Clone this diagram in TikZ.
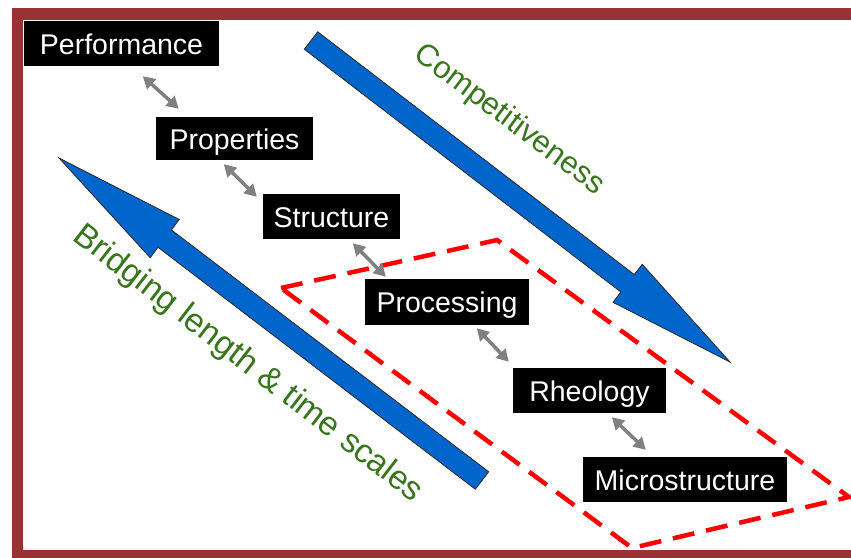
\documentclass[tikz,border=0pt]{standalone}
\usepackage{fontspec}
\setmainfont{Liberation Sans}
\usetikzlibrary{arrows.meta}
\definecolor{framecol}{RGB}{153,51,51}
\definecolor{bluearr}{RGB}{0,102,204}
\definecolor{greentxt}{RGB}{56,118,29}
\definecolor{grayarr}{RGB}{128,128,128}
\definecolor{reddash}{RGB}{255,0,0}
\tikzset{
 box/.style={fill=black, text=white, inner sep=0pt, font=\fontsize{28.5}{34}\selectfont, text height=21.5pt, text depth=0pt, align=center},
 link/.style={draw=grayarr, line width=3.5pt, {Triangle[length=12pt,width=13pt]}-{Triangle[length=12pt,width=13pt]}},
 bigarrow/.style={fill=bluearr, draw=black!85, line width=0.8pt, line join=miter},
 lbl/.style={text=greentxt, inner sep=0pt, anchor=mid},
 zone/.style={draw=reddash, line width=4.5pt, dash pattern=on 22pt off 12pt}
}
\begin{document}
\begin{tikzpicture}[x=1pt,y=-1pt]
\clip (0,0) rectangle (851,557);
\fill[white] (0,0) rectangle (851,557);
% red dashed zone
\draw[zone] (281,288) -- (497,240) -- (849,497) -- (632,548) -- cycle;
% blue arrows
\draw[bigarrow] (304.3,49.2) -- (620.9,292.0) -- (613.0,302.3) -- (730,362) -- (642.2,264.3) -- (634.3,274.6) -- (317.7,31.8) -- cycle;
\draw[bigarrow] (488.7,471.8) -- (171.4,229.9) -- (179.2,219.5) -- (59,158) -- (150.2,257.7) -- (158.0,247.3) -- (475.3,489.2) -- cycle;
% nodes
\node[box, minimum width=195pt, minimum height=45pt] (perf) at (121.5,43.5) {Performance};
\node[box, minimum width=157pt, minimum height=43pt] (prop) at (234.5,138.5) {Properties};
\node[box, minimum width=137pt, minimum height=45pt] (struct) at (331.5,216.5) {Structure};
\node[box, minimum width=164pt, minimum height=46pt] (proc) at (447,302) {Processing};
\node[box, minimum width=153pt, minimum height=45pt] (rheo) at (589.5,390.5) {Rheology};
\node[box, minimum width=204pt, minimum height=45pt] (micro) at (685,479.5) {Microstructure};
% gray links
\draw[link] ([xshift=119pt,yshift=-10pt]perf.south west) -- ([xshift=23pt,yshift=8pt]prop.north west);
\draw[link] ([xshift=68pt,yshift=-4pt]prop.south west) -- ([xshift=-6pt,yshift=-3pt]struct.north west);
\draw[link] ([xshift=90pt,yshift=-4pt]struct.south west) -- ([xshift=21pt,yshift=2pt]proc.north west);
\draw[link] ([xshift=112pt,yshift=-3pt]proc.south west) -- ([xshift=-4pt,yshift=6pt]rheo.north west);
\draw[link] ([xshift=99pt,yshift=-4pt]rheo.south west) -- ([xshift=63pt,yshift=7pt]micro.north west);
% labels
\node[lbl, rotate=-36.9, font=\fontsize{31}{37}\selectfont] (comp) at (506,124.5) {Competitiveness};
\node[lbl, rotate=-37.7, font=\fontsize{33.5}{40}\selectfont] (bridge) at (244,369) {Bridging length \& time scales};
% frame
\draw[framecol, line width=11.5pt] (17.5,14) rectangle (880,556);
\end{tikzpicture}
\end{document}
